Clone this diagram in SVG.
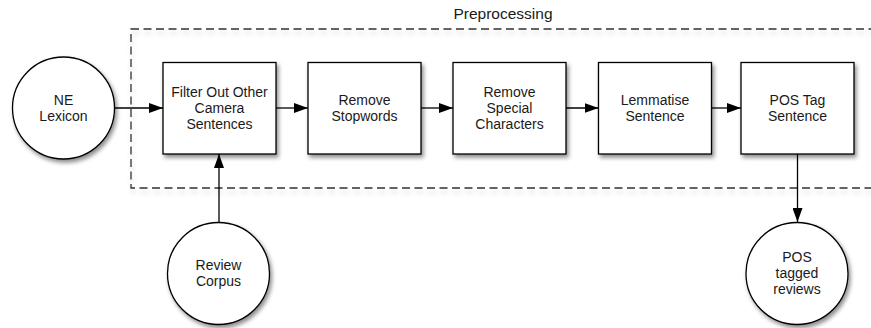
<svg xmlns="http://www.w3.org/2000/svg" width="871" height="328" viewBox="0 0 871 328">
  <defs>
    <filter id="shadow" x="-20%" y="-20%" width="150%" height="150%">
      <feDropShadow dx="2" dy="3" stdDeviation="2" flood-color="#000" flood-opacity="0.45"/>
    </filter>
    <filter id="softShadow" x="-5%" y="-10%" width="110%" height="130%">
      <feDropShadow dx="1" dy="4" stdDeviation="2.5" flood-color="#000" flood-opacity="0.18"/>
    </filter>
    <marker id="arrow" viewBox="0 0 14 10" refX="14" refY="5" markerWidth="14" markerHeight="10" markerUnits="userSpaceOnUse" orient="auto">
      <path d="M0,0 L14,5 L0,10 Z" fill="#000"/>
    </marker>
    <style>
      .box { fill: #fff; stroke: #000; stroke-width: 1.3; filter: url(#shadow); }
      .ext { fill: #fff; stroke: #000; stroke-width: 1.3; filter: url(#shadow); }
      .group { fill: none; stroke: #333; stroke-width: 1.3; stroke-dasharray: 8 4.5; filter: url(#softShadow); }
      .label { font-family: "Liberation Sans", Arial, sans-serif; font-size: 14px; fill: #1a1a1a; text-anchor: middle; }
      .title { font-family: "Liberation Sans", Arial, sans-serif; font-size: 15.5px; fill: #1a1a1a; text-anchor: middle; }
      .edge { stroke: #000; stroke-width: 1.3; fill: none; marker-end: url(#arrow); }
    </style>
  </defs>

  <rect width="871" height="328" fill="#fff"/>

  <!-- Preprocessing container -->
  <g id="preprocessing">
    <rect class="group" x="131" y="29" width="760" height="159"/>
    <text class="title" x="503" y="18.5">Preprocessing</text>
  </g>

  <!-- Inputs and output -->
  <g id="ne-lexicon">
    <circle class="ext" cx="63.5" cy="108" r="51"/>
    <text class="label" x="63.5" y="105">NE</text>
    <text class="label" x="63.5" y="121">Lexicon</text>
  </g>

  <g id="review-corpus">
    <circle class="ext" cx="218.5" cy="273.5" r="51"/>
    <text class="label" x="218.5" y="270">Review</text>
    <text class="label" x="218.5" y="286">Corpus</text>
  </g>

  <g id="pos-tagged-reviews">
    <circle class="ext" cx="797" cy="273.5" r="51"/>
    <text class="label" x="797" y="261.5">POS</text>
    <text class="label" x="797" y="277.5">tagged</text>
    <text class="label" x="797" y="293.5">reviews</text>
  </g>

  <!-- Processing steps -->
  <g id="filter-sentences">
    <rect class="box" x="163" y="62.5" width="113" height="91.5"/>
    <text class="label" x="219.5" y="97">Filter Out Other</text>
    <text class="label" x="219.5" y="113">Camera</text>
    <text class="label" x="219.5" y="129">Sentences</text>
  </g>

  <g id="remove-stopwords">
    <rect class="box" x="308" y="62.5" width="113" height="91.5"/>
    <text class="label" x="364.5" y="105">Remove</text>
    <text class="label" x="364.5" y="121">Stopwords</text>
  </g>

  <g id="remove-special">
    <rect class="box" x="453" y="62.5" width="113" height="91.5"/>
    <text class="label" x="509.5" y="97">Remove</text>
    <text class="label" x="509.5" y="113">Special</text>
    <text class="label" x="509.5" y="129">Characters</text>
  </g>

  <g id="lemmatise">
    <rect class="box" x="598.5" y="62.5" width="113" height="91.5"/>
    <text class="label" x="655" y="105">Lemmatise</text>
    <text class="label" x="655" y="121">Sentence</text>
  </g>

  <g id="pos-tag">
    <rect class="box" x="741" y="62.5" width="113" height="91.5"/>
    <text class="label" x="797.5" y="105">POS Tag</text>
    <text class="label" x="797.5" y="121">Sentence</text>
  </g>

  <!-- Connectors -->
  <g id="connectors">
    <line class="edge" x1="114.5" y1="108" x2="163" y2="108"/>
    <line class="edge" x1="276" y1="108" x2="308" y2="108"/>
    <line class="edge" x1="421" y1="108" x2="453" y2="108"/>
    <line class="edge" x1="566" y1="108" x2="598.5" y2="108"/>
    <line class="edge" x1="711.5" y1="108" x2="741" y2="108"/>
    <line class="edge" x1="219" y1="222.5" x2="219" y2="154"/>
    <line class="edge" x1="797.5" y1="154" x2="797.5" y2="222"/>
  </g>
</svg>
